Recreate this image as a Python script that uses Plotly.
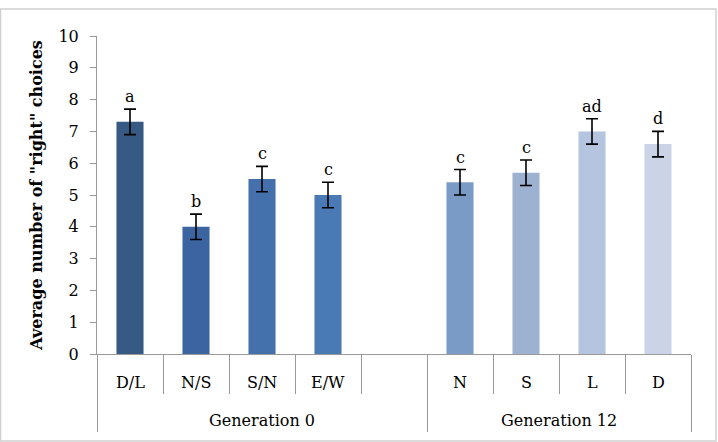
import plotly.graph_objects as go

categories = ["D/L", "N/S", "S/N", "E/W", "", "N", "S", "L", "D"]
groups = ["Generation 0", "Generation 12"]
group_spans = [(0, 4), (5, 8)]  # category index ranges (blank slot belongs to Generation 0)
values = [7.3, 4.0, 5.5, 5.0, None, 5.4, 5.7, 7.0, 6.6]
errors = [0.4, 0.4, 0.4, 0.4, None, 0.4, 0.4, 0.4, 0.4]
letters = ["a", "b", "c", "c", "", "c", "c", "ad", "d"]
colors = ["#365a84", "#3c64a0", "#4470ab", "#4a7ab5", "#ffffff",
          "#7b9bc7", "#9db1d1", "#b5c4df", "#cbd4e6"]
yticks = list(range(0, 11))

FONT = "DejaVu Serif"
FS = 16
xs = list(range(len(categories)))

fig = go.Figure()
fig.add_trace(go.Bar(
    x=xs, y=values, width=0.41,
    marker=dict(color=colors, line=dict(width=0)),
    error_y=dict(type="data", array=errors, visible=True,
                 color="#000000", thickness=1.6, width=6),
    showlegend=False, hoverinfo="skip",
))
fig.add_trace(go.Scatter(x=[-0.5, 8.5], y=[0, 0], xaxis="x2", mode="markers",
                         marker=dict(opacity=0), showlegend=False, hoverinfo="skip"))

annotations = []
for i, (v, e, t) in enumerate(zip(values, errors, letters)):
    if v is None or not t:
        continue
    annotations.append(dict(x=i, y=v + e, xref="x", yref="y", text=t, showarrow=False,
                            yanchor="bottom", yshift=1,
                            font=dict(family=FONT, size=FS, color="#000000")))
for i, c in enumerate(categories):
    if not c:
        continue
    annotations.append(dict(x=i, y=0, xref="x", yref="y", text=c, showarrow=False,
                            yanchor="middle", yshift=-28,
                            font=dict(family=FONT, size=FS, color="#000000")))
for g, (a, b) in zip(groups, group_spans):
    annotations.append(dict(x=(a + b) / 2, y=0, xref="x", yref="y", text=g, showarrow=False,
                            yanchor="middle", yshift=-66,
                            font=dict(family=FONT, size=FS, color="#000000")))

boundaries = [i - 0.5 for i in range(len(categories) + 1)]
group_bounds = [group_spans[0][0] - 0.5, group_spans[1][0] - 0.5, group_spans[1][1] + 0.5]

fig.update_layout(
    width=718, height=442,
    margin=dict(l=97, r=27, t=36, b=88),
    paper_bgcolor="#ffffff", plot_bgcolor="#ffffff",
    font=dict(family=FONT, size=FS, color="#000000"),
    xaxis=dict(range=[-0.5, 8.5], tickvals=boundaries, ticktext=[""] * len(boundaries),
               ticks="outside", ticklen=39, tickcolor="#999999", tickwidth=1,
               showline=True, linecolor="#999999", linewidth=1,
               showgrid=False, zeroline=False, fixedrange=True),
    xaxis2=dict(range=[-0.5, 8.5], overlaying="x", side="bottom", anchor="y",
                tickvals=group_bounds, ticktext=[""] * len(group_bounds),
                ticks="outside", ticklen=77, tickcolor="#999999", tickwidth=1,
                showline=False, showgrid=False, zeroline=False),
    yaxis=dict(range=[0, 10], tickvals=yticks, ticks="outside", ticklen=6,
               tickcolor="#999999", showline=True, linecolor="#999999", linewidth=1,
               showgrid=False, zeroline=False, ticklabelstandoff=8,
               tickfont=dict(family=FONT, size=FS),
               title=dict(text='Average number of "right" choices', standoff=11,
                          font=dict(family=FONT, size=FS, weight="bold"))),
    annotations=annotations,
    shapes=[dict(type="rect", xref="paper", yref="paper",
                 x0=(0.5 - 97) / 594, x1=(716 - 97) / 594,
                 y0=(354 - 441) / 318, y1=(354 - 9) / 318,
                 line=dict(color="#d0d0d0", width=1.5), layer="below")],
)

fig.write_html("out.html")
